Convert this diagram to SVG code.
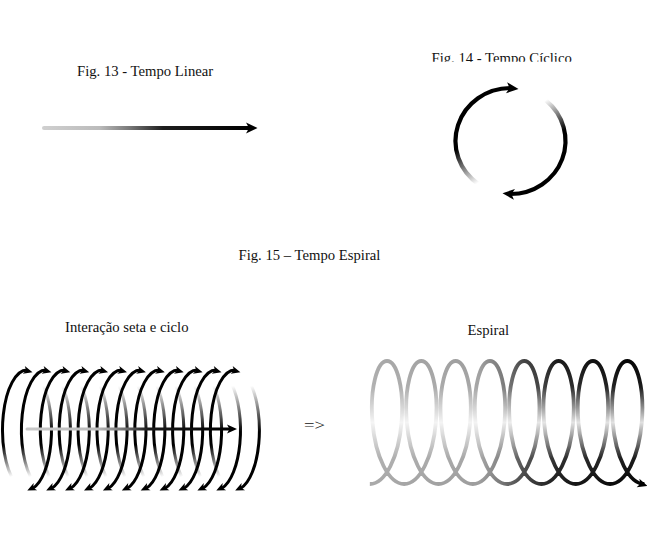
<svg xmlns="http://www.w3.org/2000/svg" width="647" height="537" viewBox="0 0 647 537">
<style>
  .t { font-family: "Liberation Serif", "Times New Roman", serif; font-size: 14.7px; fill: #111; }
  .k { fill: #000; }
  .arc { fill: none; stroke-linecap: butt; }
</style>
<defs>
  <linearGradient id="g13" gradientUnits="userSpaceOnUse" x1="44" y1="0" x2="249" y2="0">
    <stop offset="0" stop-color="#cfcfcf"/>
    <stop offset="0.27" stop-color="#bbbbbb"/>
    <stop offset="0.42" stop-color="#777777"/>
    <stop offset="0.58" stop-color="#1e1e1e"/>
    <stop offset="1" stop-color="#000000"/>
  </linearGradient>
  <linearGradient id="gi" gradientUnits="userSpaceOnUse" x1="27" y1="0" x2="229" y2="0">
    <stop offset="0" stop-color="#c8c8c8"/>
    <stop offset="0.35" stop-color="#bbbbbb"/>
    <stop offset="0.5" stop-color="#666666"/>
    <stop offset="0.6" stop-color="#1a1a1a"/>
    <stop offset="1" stop-color="#000000"/>
  </linearGradient>
  <linearGradient id="fL14" gradientUnits="userSpaceOnUse" x1="456" y1="150" x2="478" y2="183">
    <stop offset="0" stop-color="#000" stop-opacity="1"/>
    <stop offset="1" stop-color="#000" stop-opacity="0"/>
  </linearGradient>
  <linearGradient id="fR14" gradientUnits="userSpaceOnUse" x1="546" y1="100" x2="563" y2="131">
    <stop offset="0" stop-color="#000" stop-opacity="0"/>
    <stop offset="1" stop-color="#000" stop-opacity="1"/>
  </linearGradient>
  <linearGradient id="fl" gradientUnits="userSpaceOnUse" x1="-24" y1="15" x2="-13" y2="46">
    <stop offset="0" stop-color="#000" stop-opacity="1"/>
    <stop offset="1" stop-color="#000" stop-opacity="0"/>
  </linearGradient>
  <linearGradient id="fr" gradientUnits="userSpaceOnUse" x1="16" y1="-44" x2="24" y2="2">
    <stop offset="0" stop-color="#000" stop-opacity="0"/>
    <stop offset="1" stop-color="#000" stop-opacity="1"/>
  </linearGradient>
  <linearGradient id="gs" gradientUnits="userSpaceOnUse" x1="370" y1="0" x2="645" y2="0">
    <stop offset="0" stop-color="#a9a9a9"/>
    <stop offset="0.4" stop-color="#9c9c9c"/>
    <stop offset="0.47" stop-color="#7a7a7a"/>
    <stop offset="0.56" stop-color="#444444"/>
    <stop offset="0.68" stop-color="#1a1a1a"/>
    <stop offset="1" stop-color="#000000"/>
  </linearGradient>
  <linearGradient id="gv" gradientUnits="userSpaceOnUse" x1="0" y1="359" x2="0" y2="486">
    <stop offset="0" stop-color="#fff" stop-opacity="1"/>
    <stop offset="0.22" stop-color="#fff" stop-opacity="0.9"/>
    <stop offset="0.5" stop-color="#fff" stop-opacity="0.12"/>
    <stop offset="0.78" stop-color="#fff" stop-opacity="0.9"/>
    <stop offset="1" stop-color="#fff" stop-opacity="1"/>
  </linearGradient>
  <mask id="mv" maskUnits="userSpaceOnUse" x="355" y="350" width="300" height="150">
    <rect x="355" y="350" width="300" height="150" fill="url(#gv)"/>
  </mask>
  <clipPath id="clip14">
    <rect x="400" y="30" width="220" height="31.8"/>
  </clipPath>
  <g id="cyc">
    <path class="arc" d="M -12.25,51.96 A 24.5,60 0 0 1 0,-60" stroke="url(#fl)" stroke-width="3"/>
    <path class="arc" d="M 15.75,-45.96 A 24.5,60 0 0 1 5.93,58.22" stroke="url(#fr)" stroke-width="3"/>
    <polygon class="k" points="5.5,-57.8 -2.21,-63.92 -0.79,-59.43 -4.21,-56.18"/>
    <polygon class="k" points="0.3,60.5 6.68,53.03 6.15,57.71 10.12,60.23"/>
  </g>
</defs>

<g id="fig13-title"><text class="t" x="77" y="76">Fig. 13 - Tempo Linear</text></g>
<g id="fig14-title" clip-path="url(#clip14)"><text class="t" x="431.5" y="63">Fig. 14 - Tempo Cíclico</text></g>
<g id="fig15-title"><text class="t" x="238.5" y="260">Fig. 15 – Tempo Espiral</text></g>
<g id="interaction-label"><text class="t" x="65" y="332">Interação seta e ciclo</text></g>
<g id="espiral-label"><text class="t" x="467.5" y="334.5">Espiral</text></g>
<g id="implies"><text class="t" x="304" y="430" font-size="15" fill="#444" textLength="21" lengthAdjust="spacingAndGlyphs">=&gt;</text></g>

<g id="linear-arrow">
  <line x1="44" y1="128" x2="249.5" y2="128" stroke="url(#g13)" stroke-width="4" stroke-linecap="round"/>
  <polygon class="k" points="257.5,128 246,122.5 249,128 246,133.5"/>
</g>

<g id="cycle">
  <path class="arc" d="M 478.95,184.42 A 55,53 0 0 1 510.5,88" stroke="url(#fL14)" stroke-width="4.2"/>
  <polygon class="k" points="518.5,89 507.11,82.33 509.55,88.1 506.01,93.27"/>
  <path class="arc" d="M 545.85,100.4 A 55,53 0 0 1 510.5,194" stroke="url(#fR14)" stroke-width="4.2"/>
  <polygon class="k" points="502.5,193.2 514.99,188.93 511.45,194.1 513.89,199.87"/>
</g>

<g id="interaction">
  <use href="#cyc" transform="translate(27,430)"/>
  <use href="#cyc" transform="translate(45.9,430)"/>
  <use href="#cyc" transform="translate(64.8,430)"/>
  <use href="#cyc" transform="translate(83.7,430)"/>
  <use href="#cyc" transform="translate(102.6,430)"/>
  <use href="#cyc" transform="translate(121.5,430)"/>
  <use href="#cyc" transform="translate(140.4,430)"/>
  <use href="#cyc" transform="translate(159.3,430)"/>
  <use href="#cyc" transform="translate(178.2,430)"/>
  <use href="#cyc" transform="translate(197.1,430)"/>
  <use href="#cyc" transform="translate(216,430)"/>
  <use href="#cyc" transform="translate(234.9,430)"/>
  <line x1="27" y1="429" x2="229.5" y2="429" stroke="url(#gi)" stroke-width="3" stroke-linecap="round"/>
  <polygon class="k" points="237,429 227,424.5 229.5,429 227,433.5"/>
</g>

<g id="espiral">
  <path mask="url(#mv)" fill="none" stroke="url(#gs)" stroke-width="3.8" d="M 369.85,484
    c 15.62,0 28.82,-27.53 31.68,-61.5 c 2.86,-33.97 -4.62,-61.5 -14.52,-61.5 c -9.90,0 -17.38,27.53 -14.52,61.5 c 2.86,33.97 16.06,61.5 31.68,61.5
    c 15.62,0 28.82,-27.53 31.68,-61.5 c 2.86,-33.97 -4.62,-61.5 -14.52,-61.5 c -9.90,0 -17.38,27.53 -14.52,61.5 c 2.86,33.97 16.06,61.5 31.68,61.5
    c 15.62,0 28.82,-27.53 31.68,-61.5 c 2.86,-33.97 -4.62,-61.5 -14.52,-61.5 c -9.90,0 -17.38,27.53 -14.52,61.5 c 2.86,33.97 16.06,61.5 31.68,61.5
    c 15.62,0 28.82,-27.53 31.68,-61.5 c 2.86,-33.97 -4.62,-61.5 -14.52,-61.5 c -9.90,0 -17.38,27.53 -14.52,61.5 c 2.86,33.97 16.06,61.5 31.68,61.5
    c 15.62,0 28.82,-27.53 31.68,-61.5 c 2.86,-33.97 -4.62,-61.5 -14.52,-61.5 c -9.90,0 -17.38,27.53 -14.52,61.5 c 2.86,33.97 16.06,61.5 31.68,61.5
    c 15.62,0 28.82,-27.53 31.68,-61.5 c 2.86,-33.97 -4.62,-61.5 -14.52,-61.5 c -9.90,0 -17.38,27.53 -14.52,61.5 c 2.86,33.97 16.06,61.5 31.68,61.5
    c 15.62,0 28.82,-27.53 31.68,-61.5 c 2.86,-33.97 -4.62,-61.5 -14.52,-61.5 c -9.90,0 -17.38,27.53 -14.52,61.5 c 2.86,33.97 16.06,61.5 31.68,61.5
    c 15.62,0 28.82,-27.53 31.68,-61.5 c 2.86,-33.97 -4.62,-61.5 -14.52,-61.5 c -9.90,0 -17.38,27.53 -14.52,61.5 c 2.86,33.97 16.06,61.5 31.68,61.5"/>
  <polygon class="k" points="647.5,486 639.35,478.73 640.4,483.75 636.65,487.28"/>
</g>
</svg>
